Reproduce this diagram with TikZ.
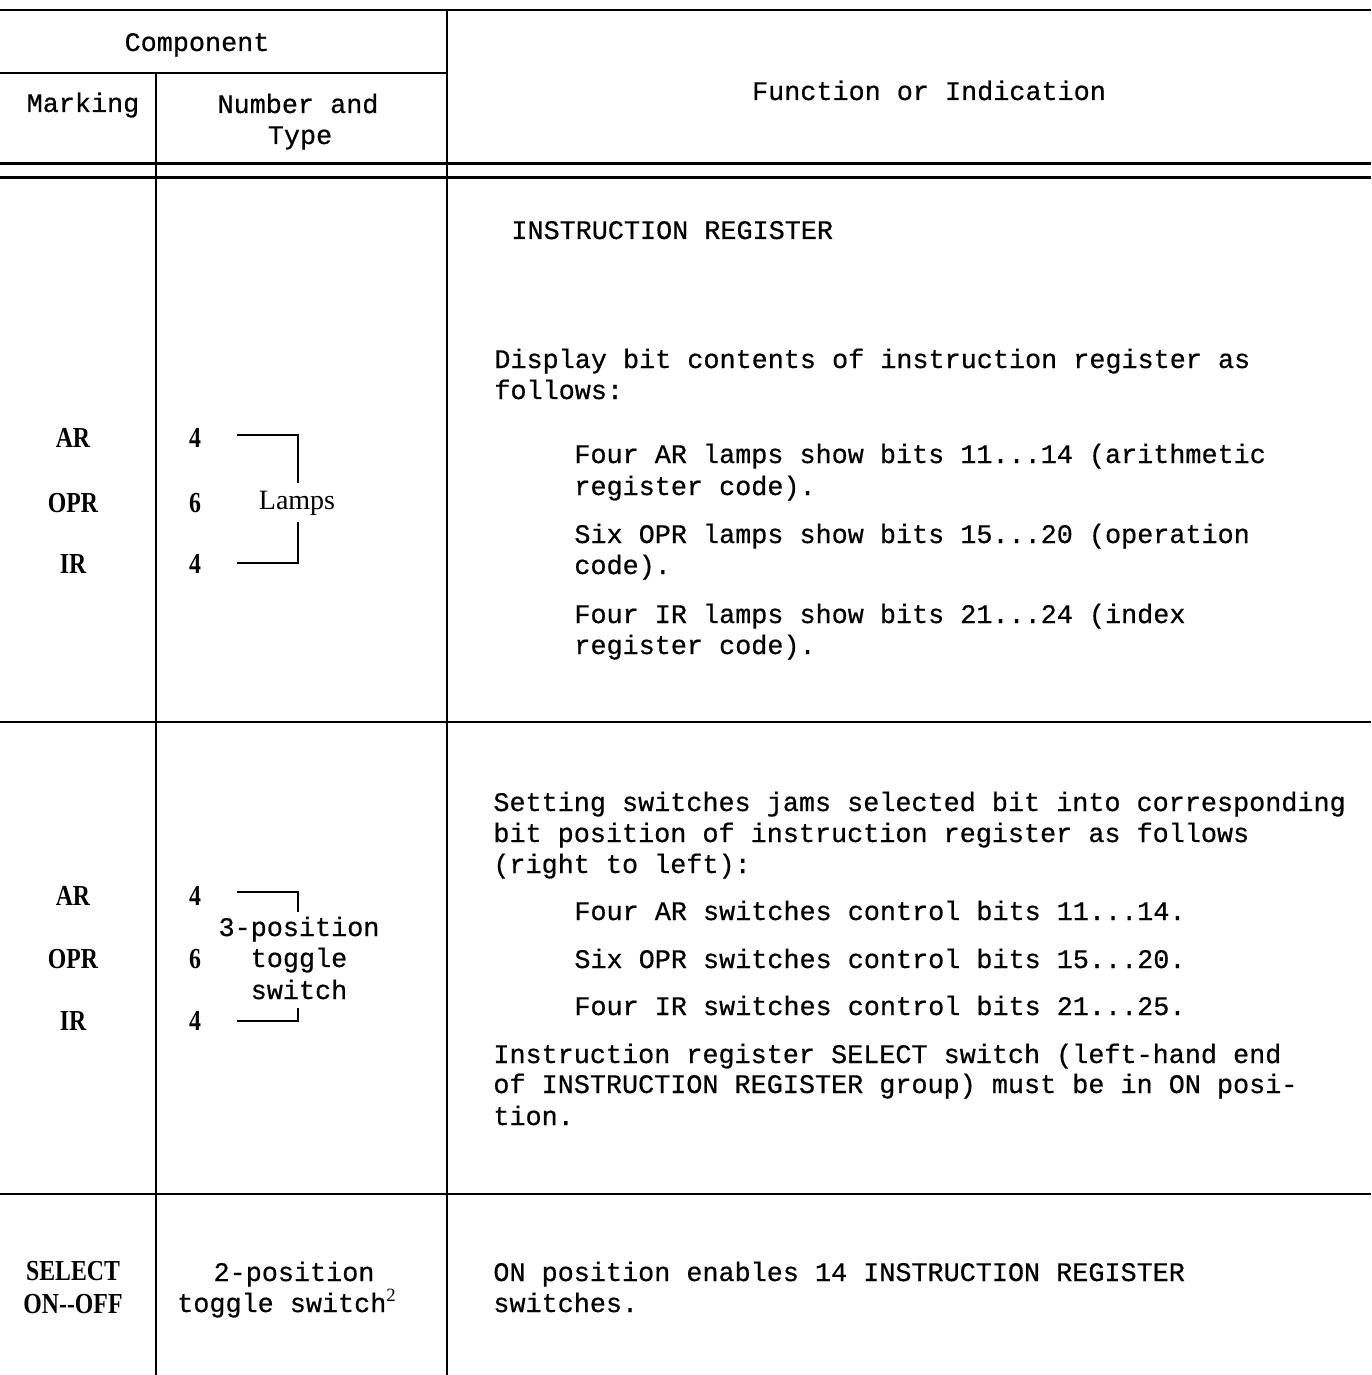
\documentclass[tikz,border=0pt]{standalone}
\usepackage{fontspec}
\newfontfamily\twfont[FakeBold=0.6]{Liberation Mono}
\newfontfamily\lbfont[FakeStretch=0.82]{Liberation Serif}
\newfontfamily\lmfont{Liberation Serif}
\tikzset{
  tx/.style={font=\twfont\fontsize{13.4}{15.5}\selectfont, inner sep=0pt, anchor=base west},
  txc/.style={tx, anchor=base},
  mk/.style={font=\lbfont\bfseries\fontsize{14.5}{16}\selectfont, inner sep=0pt, anchor=base},
  lampstyle/.style={font=\lmfont\fontsize{14}{16}\selectfont, inner sep=0pt, anchor=base},
  rule/.style={line width=1.1pt},
  dblrule/.style={line width=1.5pt},
  brk/.style={line width=1.1pt},
}
\begin{document}
\begin{tikzpicture}[x=0.5pt,y=-0.5pt]
\useasboundingbox (0,0) rectangle (1371,1375);
% table rules
\draw[rule] (0,10) -- (1371,10);
\draw[rule] (0,73) -- (447,73);
\draw[dblrule] (0,164) -- (1371,164);
\draw[dblrule] (0,178) -- (1371,178);
\draw[rule] (0,722) -- (1371,722);
\draw[rule] (0,1194) -- (1371,1194);
\draw[rule] (447,10) -- (447,1375);
\draw[rule] (156,73) -- (156,1375);

% headers
\node[txc] (hcomp) at (197,51) {Component};
\node[txc] (hmark) at (83,112) {Marking};
\node[txc] (hnum1) at (298,113) {Number and};
\node[txc] (hnum2) at (300,144) {Type};
\node[txc] (hfunc) at (929,100) {Function or Indication};

% section 1 left
\node[mk] (m1a) at (73,447) {AR};
\node[mk] (m1b) at (73,512) {OPR};
\node[mk] (m1c) at (73,573) {IR};
\node[mk] (n1a) at (195,447) {4};
\node[mk] (n1b) at (195,512) {6};
\node[mk] (n1c) at (195,573) {4};
\node[lampstyle] (lamps) at (297,509) {Lamps};
\draw[brk] (237,435) -- (298,435) -- (298,483);
\draw[brk] (298,522) -- (298,563) -- (237,563);

% section 1 right
\node[tx] (r1a) at (511,239) {INSTRUCTION REGISTER};
\node[tx] (r1b) at (494,368) {Display bit contents of instruction register as};
\node[tx] (r1c) at (494,399) {follows:};
\node[tx] (r1d) at (574,463) {Four AR lamps show bits 11...14 (arithmetic};
\node[tx] (r1e) at (574,495) {register code).};
\node[tx] (r1f) at (574,543) {Six OPR lamps show bits 15...20 (operation};
\node[tx] (r1g) at (574,574) {code).};
\node[tx] (r1h) at (574,623) {Four IR lamps show bits 21...24 (index};
\node[tx] (r1i) at (574,654) {register code).};

% section 2 left
\node[mk] (m2a) at (73,905) {AR};
\node[mk] (m2b) at (73,968) {OPR};
\node[mk] (m2c) at (73,1030) {IR};
\node[mk] (n2a) at (195,905) {4};
\node[mk] (n2b) at (195,968) {6};
\node[mk] (n2c) at (195,1030) {4};
\node[txc] (t2a) at (299,936) {3-position};
\node[txc] (t2b) at (299,967) {toggle};
\node[txc] (t2c) at (299,999) {switch};
\draw[brk] (237,892) -- (298,892) -- (298,912);
\draw[brk] (298,1008) -- (298,1021) -- (237,1021);

% section 2 right
\node[tx] (r2a) at (493,811) {Setting switches jams selected bit into corresponding};
\node[tx] (r2b) at (493,842) {bit position of instruction register as follows};
\node[tx] (r2c) at (493,873) {(right to left):};
\node[tx] (r2d) at (574,920) {Four AR switches control bits 11...14.};
\node[tx] (r2e) at (574,968) {Six OPR switches control bits 15...20.};
\node[tx] (r2f) at (574,1015) {Four IR switches control bits 21...25.};
\node[tx] (r2g) at (493,1063) {Instruction register SELECT switch (left-hand end};
\node[tx] (r2h) at (493,1093) {of INSTRUCTION REGISTER group) must be in ON posi-};
\node[tx] (r2i) at (493,1125) {tion.};

% section 3
\node[mk] (m3a) at (73,1280) {SELECT};
\node[mk] (m3b) at (73,1313) {ON{-}{-}OFF};
\node[txc] (t3a) at (294,1281) {2-position};
\node[txc] (t3b) at (287,1312) {toggle switch\textsuperscript{\lmfont 2}};
\node[tx] (r3a) at (493,1281) {ON position enables 14 INSTRUCTION REGISTER};
\node[tx] (r3b) at (493,1312) {switches.};
\end{tikzpicture}
\end{document}
